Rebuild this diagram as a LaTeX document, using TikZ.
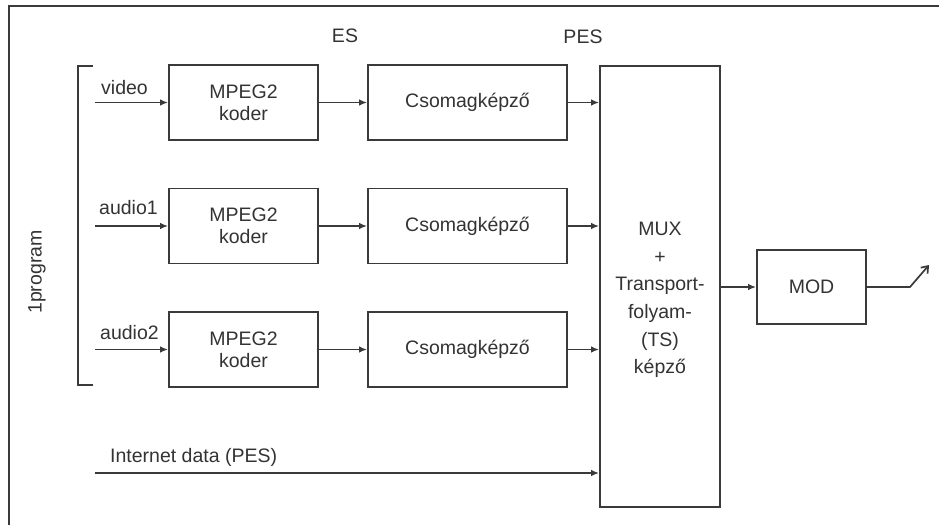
\documentclass[tikz,border=0pt]{standalone}
\usepackage{fontspec}
\setmainfont{Liberation Sans}
\usetikzlibrary{arrows.meta}
\definecolor{ink}{HTML}{3A3A3A}
\definecolor{txt}{HTML}{333333}

\begin{document}
\begin{tikzpicture}[x=1pt,y=-1pt,
  every node/.style={text=txt, font=\fontsize{19.5}{22}\selectfont},
  wire/.style={draw=ink, line width=1.7pt},
  blk/.style={draw=ink, line width=1.7pt, rectangle, inner sep=0pt, align=center},
  enc/.style={blk, minimum width=149pt, minimum height=75pt},
  pack/.style={blk, minimum width=199pt, minimum height=75pt},
  flow/.style={wire, -{Latex[length=8pt,width=6.5pt]}},
  lbl/.style={anchor=west, inner sep=0pt}]
\useasboundingbox (0,0) rectangle (939,525);

% outer frame (left and top edges)
\draw[wire] (9,525) -- (9,6) -- (939,6);

% column headings
\node (es) at (345,36) {ES};
\node (pes) at (583,37) {PES};

% program bracket
\draw[wire] (93,66) -- (78,66) -- (78,385) -- (93,385);
\node[rotate=90] (prog) at (37,272) {1program};

% encoders and packetisers
\node[enc] (enc1) at (243.5,102.5) {MPEG2\\koder};
\node[enc] (enc2) at (243.5,226) {MPEG2\\koder};
\node[enc] (enc3) at (243.5,349.5) {MPEG2\\koder};
\node[pack] (pk1) at (467.5,102.5) {Csomagképző};
\node[pack] (pk2) at (467.5,226) {Csomagképző};
\node[pack] (pk3) at (467.5,349.5) {Csomagképző};

% multiplexer and modulator
\node[blk, minimum width=120pt, minimum height=441pt] (mux) at (660,286.5) {};
\node[align=center, font=\fontsize{19.5}{27.6}\selectfont] (muxtext) at (660,300)
  {MUX\\+\\Transport-\\folyam-\\(TS)\\képző};
\node[blk, minimum width=109pt, minimum height=74pt] (mod) at (811.5,287) {MOD};

% inputs
\coordinate (in1) at (95,102.5);
\coordinate (in2) at (95,226);
\coordinate (in3) at (95,349.5);
\coordinate (inet) at (95,473);
\node[lbl] (l1) at (101,88) {video};
\node[lbl] (l2) at (99,208) {audio1};
\node[lbl] (l3) at (100,333) {audio2};
\node[lbl] (l4) at (110,457) {Internet data (PES)};

\draw[flow] (in1) -- (enc1.west);
\draw[flow] (in2) -- (enc2.west);
\draw[flow] (in3) -- (enc3.west);

\draw[flow] (enc1.east) -- (pk1.west);
\draw[flow] (enc2.east) -- (pk2.west);
\draw[flow] (enc3.east) -- (pk3.west);

\draw[flow] (pk1.east) -- (pk1.east -| mux.west);
\draw[flow] (pk2.east) -- (pk2.east -| mux.west);
\draw[flow] (pk3.east) -- (pk3.east -| mux.west);
\draw[flow] (inet) -- (inet -| mux.west);

\draw[flow] (mod.west -| mux.east) -- (mod.west);

% output to antenna
\coordinate (kink) at (910,287);
\coordinate (ant) at (929,265);
\draw[wire, -{Straight Barb[length=6pt,width=9pt]}] (mod.east) -- (kink) -- (ant);
\end{tikzpicture}
\end{document}
